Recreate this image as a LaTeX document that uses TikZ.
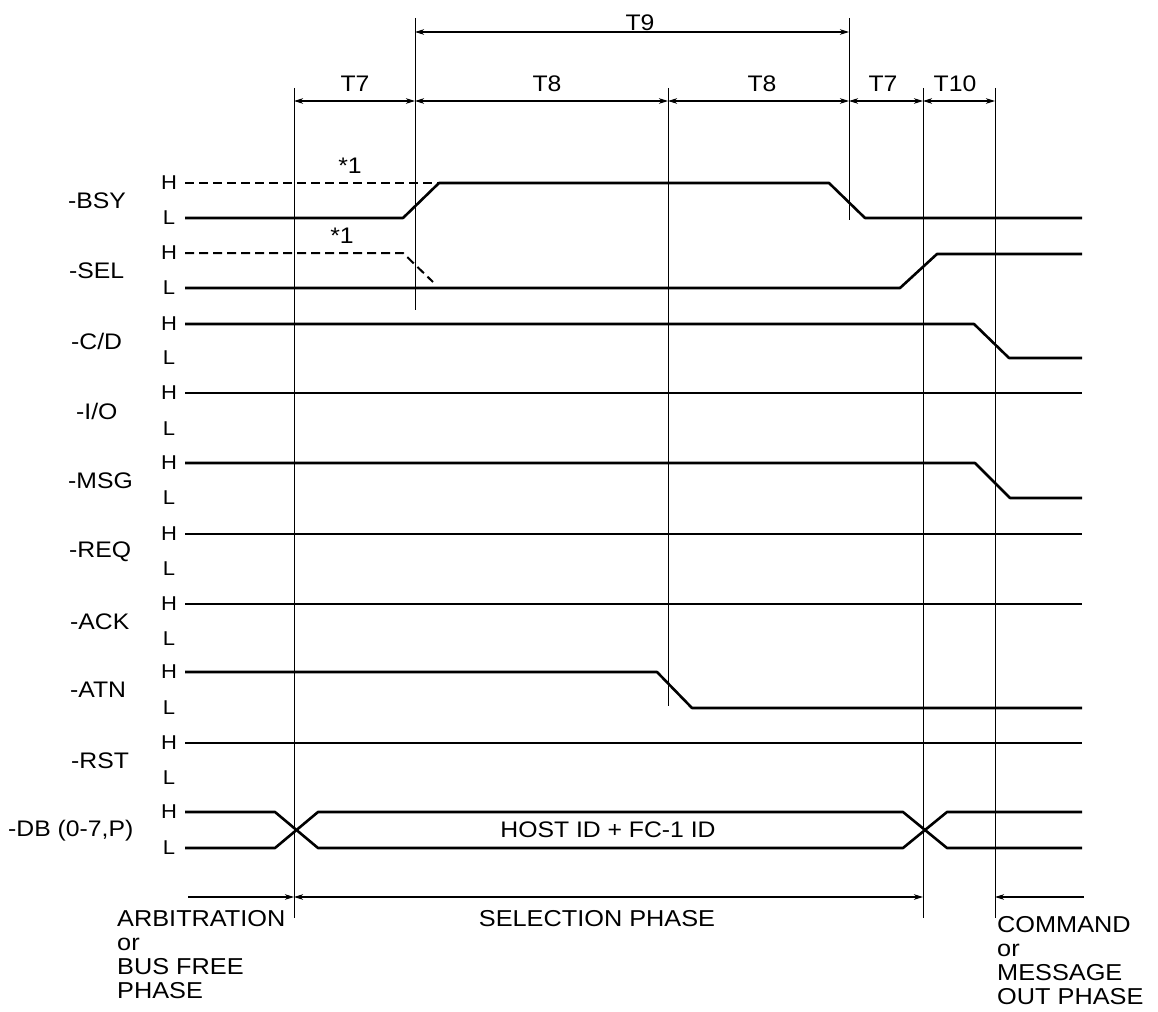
\documentclass[tikz,border=0pt]{standalone}
\usepackage{fontspec}
\setmainfont{Liberation Sans}[FakeStretch=1.1]
\usetikzlibrary{arrows.meta}
\newcommand\fsig{\fontsize{22.5}{24}\selectfont}
\newcommand\fhl{\fontsize{20}{22}\selectfont}
\newcommand\ftim{\fontsize{22.5}{24}\selectfont}
\newcommand\fpha{\fontsize{23}{24}\selectfont}
\newcommand\fdat{\fontsize{22.5}{24}\selectfont}
\begin{document}
\begin{tikzpicture}[x=1pt,y=-1pt,
  sig/.style={line width=2.6pt, line join=round},
  dsig/.style={line width=2pt, dash pattern=on 9pt off 5pt},
  vline/.style={line width=1pt},
  dtip/.tip={Stealth[length=9pt,width=5.5pt,inset=2.5pt]},
  dimb/.style={line width=1.1pt, dtip-dtip},
  dimr/.style={line width=1.1pt, -dtip},
  diml/.style={line width=1.1pt, dtip-},
  sname/.style={font=\fsig, inner sep=0pt, anchor=west},
  hl/.style={font=\fhl, inner sep=0pt},
  tlab/.style={font=\ftim, inner sep=0pt},
  plab/.style={font=\fpha, inner sep=0pt, anchor=base west},
]
\useasboundingbox (0,0) rectangle (1158,1011);

% vertical reference lines
\coordinate (v1t) at (294,88);  \coordinate (v1b) at (294,918);
\coordinate (v2t) at (415,18);  \coordinate (v2b) at (415,310);
\coordinate (v3t) at (668,88);  \coordinate (v3b) at (668,706);
\coordinate (v4t) at (849,18);  \coordinate (v4b) at (849,220);
\coordinate (v5t) at (923,88);  \coordinate (v5b) at (923,918);
\coordinate (v6t) at (995,88);  \coordinate (v6b) at (995,918);
\foreach \a in {1,...,6} {\draw[vline] (v\a t) -- (v\a b);}

% timing dimension arrows
\coordinate (d1) at (294,101); \coordinate (d2) at (415,101);
\coordinate (d3) at (668,101); \coordinate (d4) at (849,101);
\coordinate (d5) at (923,101); \coordinate (d6) at (995,101);
\coordinate (t9a) at (415,32); \coordinate (t9b) at (849,32);
\draw[dimb] (t9a) -- (t9b);
\draw[dimb] (d1) -- (d2);
\draw[dimb] (d2) -- (d3);
\draw[dimb] (d3) -- (d4);
\draw[dimb] (d4) -- (d5);
\draw[dimb] (d5) -- (d6);
\node[tlab] (lt9) at (640,23) {T9};
\node[tlab] (lt7a) at (355,84) {T7};
\node[tlab] (lt8a) at (547,84) {T8};
\node[tlab] (lt8b) at (762,84) {T8};
\node[tlab] (lt7b) at (883,84) {T7};
\node[tlab] (lt10) at (955,84) {T10};

% signal names
\node[sname] (nbsy) at (68,200.5) {-BSY};
\node[sname] (nsel) at (69,270.5) {-SEL};
\node[sname] (ncd)  at (71,341) {-C/D};
\node[sname] (nio)  at (76,411) {-I/O};
\node[sname] (nmsg) at (68,481) {-MSG};
\node[sname] (nreq) at (69,551.5) {-REQ};
\node[sname] (nack) at (70,621.5) {-ACK};
\node[sname] (natn) at (70,690) {-ATN};
\node[sname] (nrst) at (71,760.5) {-RST};
\node[sname] (ndb)  at (8,830.5) {-DB (0-7,P)};

% H / L labels
\foreach \h/\l [count=\i] in {183/218,253/288,324/358,393/429,463/498,534/569,604/639,672/708,743/778,812/848} {
  \node[hl] (h\i) at (169,\h) {H};
  \node[hl] (l\i) at (169,\l) {L};
}

% -BSY
\draw[dsig] (185,183) -- (439,183);
\draw[sig] (185,218) -- (403,218) -- (439,183) -- (829,183) -- (865,218) -- (1082,218);
\node[tlab] (s1a) at (350,166) {*1};
% -SEL
\draw[dsig] (185,253) -- (403,253) -- (433,282);
\draw[sig] (185,288) -- (900,288) -- (937,254) -- (1082,254);
\node[tlab] (s1b) at (342,236) {*1};
% -C/D
\draw[sig] (185,324) -- (974,324) -- (1009,358) -- (1082,358);
% -I/O
\draw[sig] (185,393) -- (1082,393);
% -MSG
\draw[sig] (185,463) -- (975,463) -- (1010,498) -- (1082,498);
% -REQ
\draw[sig] (185,534) -- (1082,534);
% -ACK
\draw[sig] (185,604) -- (1082,604);
% -ATN
\draw[sig] (185,672) -- (657,672) -- (692,708) -- (1082,708);
% -RST
\draw[sig] (185,743) -- (1082,743);
% -DB
\draw[sig] (185,812) -- (275,812) -- (318,848) -- (903,848) -- (947,812) -- (1082,812);
\draw[sig] (185,848) -- (275,848) -- (318,812) -- (903,812) -- (947,848) -- (1082,848);
\node[font=\fdat, inner sep=0pt] (dbtxt) at (608,830) {HOST ID + FC-1 ID};

% phase arrows
\coordinate (p0) at (188,897); \coordinate (p1) at (294,897);
\coordinate (p5) at (923,897); \coordinate (p6) at (995,897);
\coordinate (p7) at (1084,897);
\draw[dimr] (p0) -- (p1);
\draw[dimb] (p1) -- (p5);
\draw[diml] (p6) -- (p7);

% phase labels
\node[plab] (ar1) at (117,926) {ARBITRATION};
\node[plab] (ar2) at (117,950) {or};
\node[plab] (ar3) at (117,974) {BUS FREE};
\node[plab] (ar4) at (117,998) {PHASE};
\node[font=\fpha, inner sep=0pt, anchor=base] (selp) at (597,926) {SELECTION PHASE};
\node[plab] (cm1) at (997,932) {COMMAND};
\node[plab] (cm2) at (997,956) {or};
\node[plab] (cm3) at (997,980) {MESSAGE};
\node[plab] (cm4) at (997,1004) {OUT PHASE};
\end{tikzpicture}
\end{document}
